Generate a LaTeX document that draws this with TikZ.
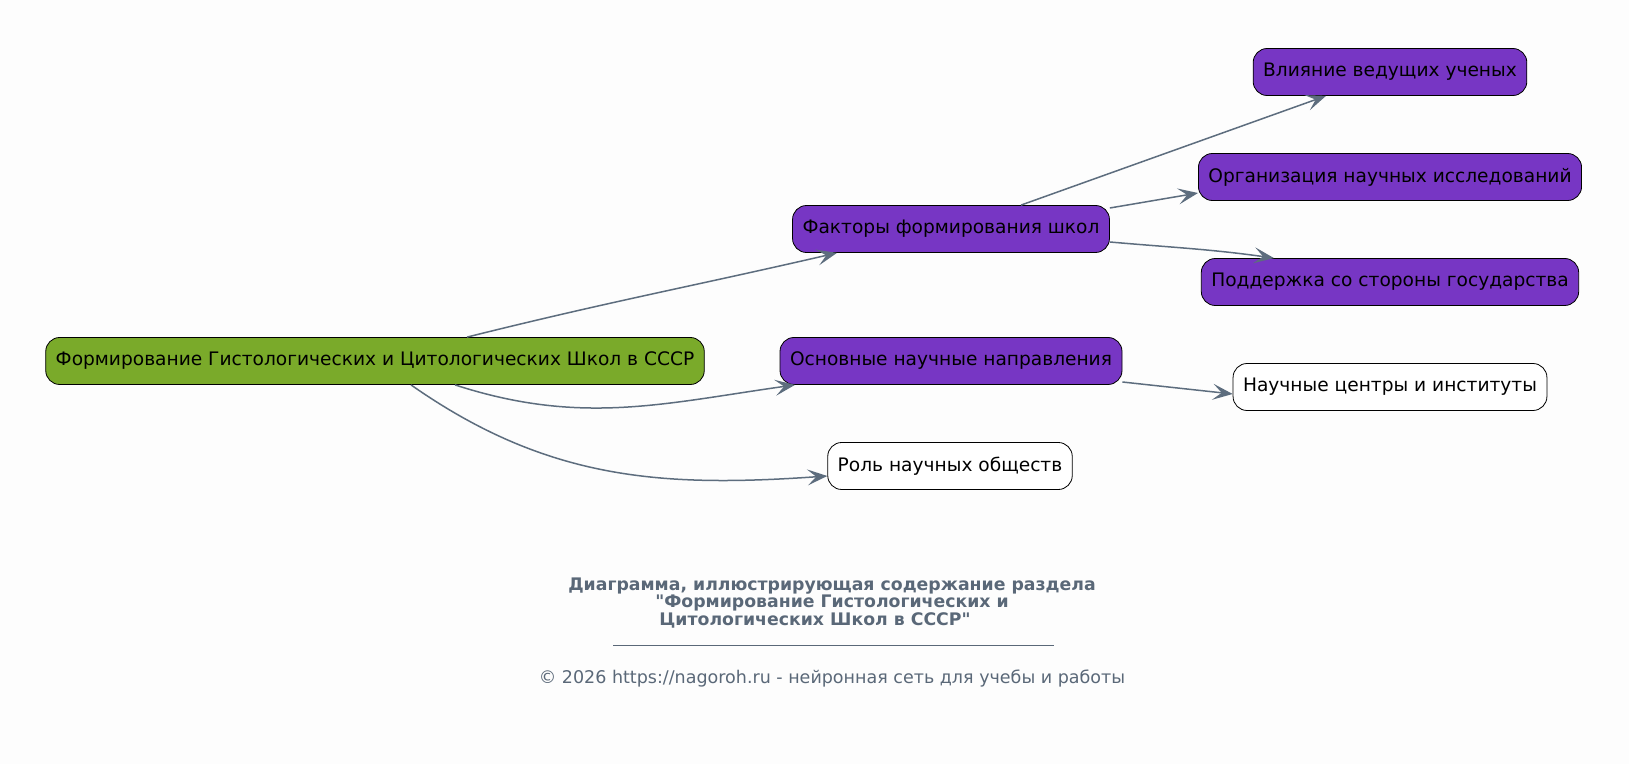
\documentclass[tikz,border=0pt]{standalone}
\usepackage{fontspec}
\setmainfont{DejaVu Sans}[Ligatures=TeXOff]
\usepackage{xcolor}
\definecolor{rootgreen}{HTML}{7AAA2A}
\definecolor{topicviolet}{HTML}{7736C4}
\definecolor{edgeslate}{HTML}{5D6D7E}
\definecolor{captiongrey}{HTML}{5A6878}
\definecolor{pagebg}{HTML}{FDFDFD}
\usetikzlibrary{arrows.meta, positioning}

\tikzset{
    box/.style={draw=black, rounded corners=7pt, minimum height=23.5pt, inner xsep=5pt,
        font=\fontsize{9.3}{11}\selectfont, text=black},
    rootbox/.style={box, fill=rootgreen},
    topicbox/.style={box, fill=topicviolet},
    leafbox/.style={box, fill=white},
    edge/.style={->, edgeslate, line width=0.75pt},
}

\begin{document}
\begin{tikzpicture}[x=0.5pt, y=-0.5pt, >={Stealth[length=10pt, width=8pt, inset=4.5pt]}]
    \fill[pagebg] (0,0) rectangle (1629,764);
    \useasboundingbox (0,0) rectangle (1629,764);

    % central theme
    \node[rootbox] (root) at (375,361) {Формирование Гистологических и Цитологических Школ в СССР};

    % first level
    \node[topicbox] (factors) at (951,229) {Факторы формирования школ};
    \node[topicbox] (areas) at (951,361) {Основные научные направления};
    \node[leafbox] (societies) at (950,466) {Роль научных обществ};

    % second level
    \node[topicbox] (scientists) at (1390,72) {Влияние ведущих ученых};
    \node[topicbox] (organization) at (1390,177) {Организация научных исследований};
    \node[topicbox] (support) at (1390,282) {Поддержка со стороны государства};
    \node[leafbox] (centres) at (1390,387) {Научные центры и институты};

    \draw[edge] ([xshift=46pt]root.north) to[out=14, in=193] ([xshift=-57pt]factors.south);
    \draw[edge] ([xshift=40pt]root.south) to[out=-18, in=188] ([xshift=-78pt]areas.south);
    \draw[edge] ([xshift=18pt]root.south) to[out=-35, in=184] ([yshift=-5pt]societies.west);
    \draw[edge] ([xshift=35pt]factors.north) -- ([xshift=-32pt]scientists.south);
    \draw[edge] ([yshift=10.5pt]factors.east) -- ([yshift=-8pt]organization.west);
    \draw[edge] ([yshift=-6.5pt]factors.east) to[out=-5, in=172] ([xshift=-58pt]support.north);
    \draw[edge] ([yshift=-10.5pt]areas.east) -- ([yshift=-3.5pt]centres.west);

    % caption
    \node[font=\bfseries\fontsize{8.65}{8.9}\selectfont, text=captiongrey, align=center] (title) at (832,603)
        {Диаграмма, иллюстрирующая содержание раздела\\"Формирование Гистологических и\hspace*{17pt}\\Цитологических Школ в СССР"\hspace*{17pt}};
    \coordinate (ruleL) at (613,646);
    \coordinate (ruleR) at (1054,646);
    \draw[captiongrey, line width=0.5pt] (ruleL) -- (ruleR);
    \node[font=\fontsize{8.75}{10}\selectfont, text=captiongrey] (credit) at (832,679)
        {© 2026 https://nagoroh.ru - нейронная сеть для учебы и работы};
\end{tikzpicture}
\end{document}
